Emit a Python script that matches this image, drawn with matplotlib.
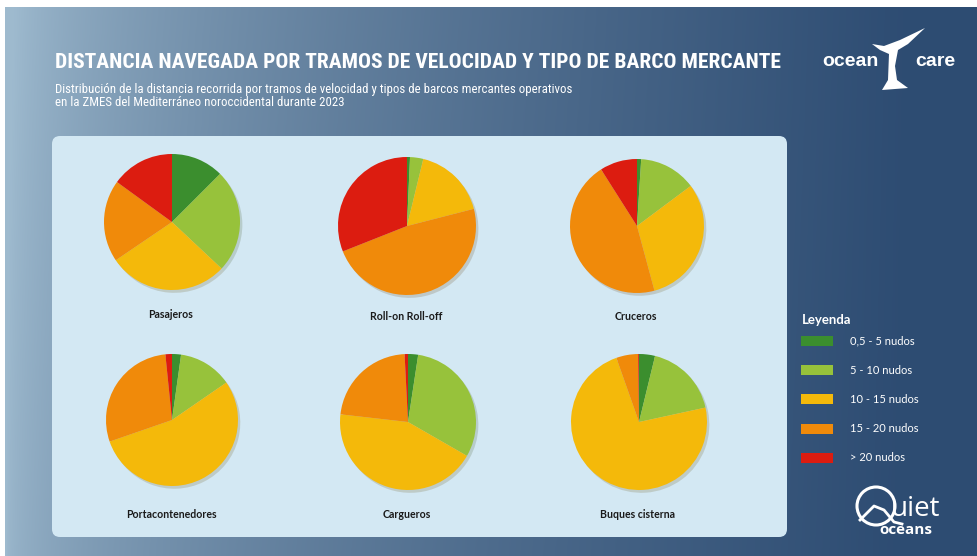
import numpy as np
import matplotlib
matplotlib.use('Agg')
import matplotlib.pyplot as plt
from matplotlib import font_manager
from matplotlib.patches import FancyBboxPatch, Rectangle, Polygon

# datos: % de distancia recorrida por tramo de velocidad
tramos = ['0,5 - 5 nudos', '5 - 10 nudos', '10 - 15 nudos', '15 - 20 nudos', '> 20 nudos']
colores = ['#3b8e2e', '#97c23b', '#f4b90a', '#f08a0a', '#dc1c10']

barcos = ['Pasajeros', 'Roll-on Roll-off', 'Cruceros',
          'Portacontenedores', 'Cargueros', 'Buques cisterna']
pasajeros = [12.5, 24.5, 28.5, 19.5, 15.0]
roro = [0.7, 3.1, 17.2, 48.0, 31.0]
cruceros = [1.0, 13.8, 31.0, 45.2, 9.0]
portacontenedores = [2.2, 13.2, 54.3, 28.7, 1.6]
cargueros = [2.4, 30.9, 43.5, 22.4, 0.8]
cisterna = [3.8, 17.8, 73.0, 5.2, 0.2]
valores = [pasajeros, roro, cruceros, portacontenedores, cargueros, cisterna]

W, H = 978, 556
fig = plt.figure(figsize=(W / 100, H / 100), dpi=100)
fig.patch.set_facecolor('white')

def fx(px):
    return px / W

def fy(py):
    return 1 - py / H

# fuente estrecha si existe
nombres = {f.name for f in font_manager.fontManager.ttflist}
titfont = 'Lato'
for cand in ['Liberation Sans Narrow', 'DejaVu Sans Condensed', 'Roboto Condensed', 'Open Sans Condensed']:
    if cand in nombres:
        titfont = cand
        break
print('fuente titulo:', titfont)

# fondo degradado
bg = fig.add_axes([fx(5), 0, 1 - fx(5), fy(7)])
nx, ny = 400, 200
xx, yy = np.meshgrid(np.linspace(0, 1, nx), np.linspace(0, 1, ny))
light = np.array([0.62, 0.73, 0.81])
dark = np.array([0.18, 0.30, 0.45])
f = np.clip(xx ** 0.55 * 1.05 - (1 - yy) * 0.08 * (1 - xx), 0, 1)
img = light[None, None, :] * (1 - f[..., None]) + dark[None, None, :] * f[..., None]
bg.imshow(img, aspect='auto', extent=[0, 1, 0, 1], origin='upper')
bg.set_xlim(0, 1)
bg.set_ylim(0, 1)
bg.axis('off')

# capa de texto / panel en coordenadas de pixel
ov = fig.add_axes([0, 0, 1, 1])
ov.set_xlim(0, W)
ov.set_ylim(H, 0)
ov.axis('off')
ov.patch.set_alpha(0)

ov.add_patch(FancyBboxPatch((52, 136), 735, 401, boxstyle='round,pad=0,rounding_size=8',
                            facecolor='#d3e8f3', edgecolor='none'))

titulo = ov.text(55, 63, 'DISTANCIA NAVEGADA POR TRAMOS DE VELOCIDAD Y TIPO DE BARCO MERCANTE',
                 color='white', fontsize=16, fontweight='bold', family=titfont, va='center', ha='left')
sub1 = ov.text(55, 89, 'Distribución de la distancia recorrida por tramos de velocidad y tipos de barcos mercantes operativos',
               color='white', fontsize=7.6, family=titfont, va='center', ha='left')
sub2 = ov.text(55, 102, 'en la ZMES del Mediterráneo noroccidental durante 2023',
               color='white', fontsize=7.6, family=titfont, va='center', ha='left')

# ajustar anchura del titulo y subtitulo a la referencia
renderer = fig.canvas.get_renderer()
for t, ancho in [(titulo, 722), (sub1, 512)]:
    w = t.get_window_extent(renderer).width
    t.set_fontsize(t.get_fontsize() * ancho / w)
sub2.set_fontsize(sub1.get_fontsize())

# leyenda
ov.text(802, 320, 'Leyenda', color='white', fontsize=9.5, fontweight='bold', family='Lato',
        va='center', ha='left')
for i, (t, c) in enumerate(zip(tramos, colores)):
    y = 341 + i * 29.2
    ov.add_patch(Rectangle((801, y - 5), 32, 10, facecolor=c, edgecolor='none'))
    ov.text(850, y, t, color='white', fontsize=8, family='Lato', va='center', ha='left')

# logos (aproximados)
ov.text(822, 62, 'ocean', color='white', fontsize=14, fontweight='bold', family='Liberation Sans',
        va='center', ha='left')
ov.text(915, 62, 'care', color='white', fontsize=14, fontweight='bold', family='Liberation Sans',
        va='center', ha='left')
ov.add_patch(Polygon([[872, 44], [884, 46], [900, 40], [925, 28], [908, 44], [898, 50],
                      [895, 66], [897, 80], [908, 88], [882, 90], [888, 80], [889, 54], [880, 50]],
                     closed=True, facecolor='white', edgecolor='none'))
ov.add_patch(plt.Circle((876, 506), 19, facecolor='none', edgecolor='white', lw=2.2))
ov.plot([860, 874, 884, 894, 902], [520, 506, 510, 522, 524], color='white', lw=2)
ov.text(891, 509, 'uiet', color='white', fontsize=20, family='Open Sans', va='center', ha='left')
ov.text(879, 530, 'oceans', color='white', fontsize=11, fontweight='bold', family='Open Sans',
        va='center', ha='left')

# tartas
centros = [(172, 222, 68), (407, 226, 69), (637, 226, 67),
           (172, 420, 66), (408, 422, 68), (639, 422, 68)]
etiquetas_y = [315, 316, 316, 515, 515, 515]
for nombre, vals, (cx, cy, r), ly in zip(barcos, valores, centros, etiquetas_y):
    ax = fig.add_axes([fx(cx - r * 1.15), fy(cy + r * 1.15), fx(2.3 * r), 2.3 * r / H])
    ax.pie(vals, colors=colores, startangle=90, counterclock=False, radius=1,
           shadow={'ox': 0.025, 'oy': -0.03, 'shade': 0.6, 'alpha': 0.18},
           wedgeprops={'linewidth': 0})
    ax.set_xlim(-1.15, 1.15)
    ax.set_ylim(-1.15, 1.15)
    ax.set_aspect('equal')
    ax.axis('off')
    ov.text(cx - 1, ly, nombre, color='#1a1a1a', fontsize=7.6, fontweight='bold', family='Lato',
            va='center', ha='center')

fig.savefig('out.png', dpi=100)
